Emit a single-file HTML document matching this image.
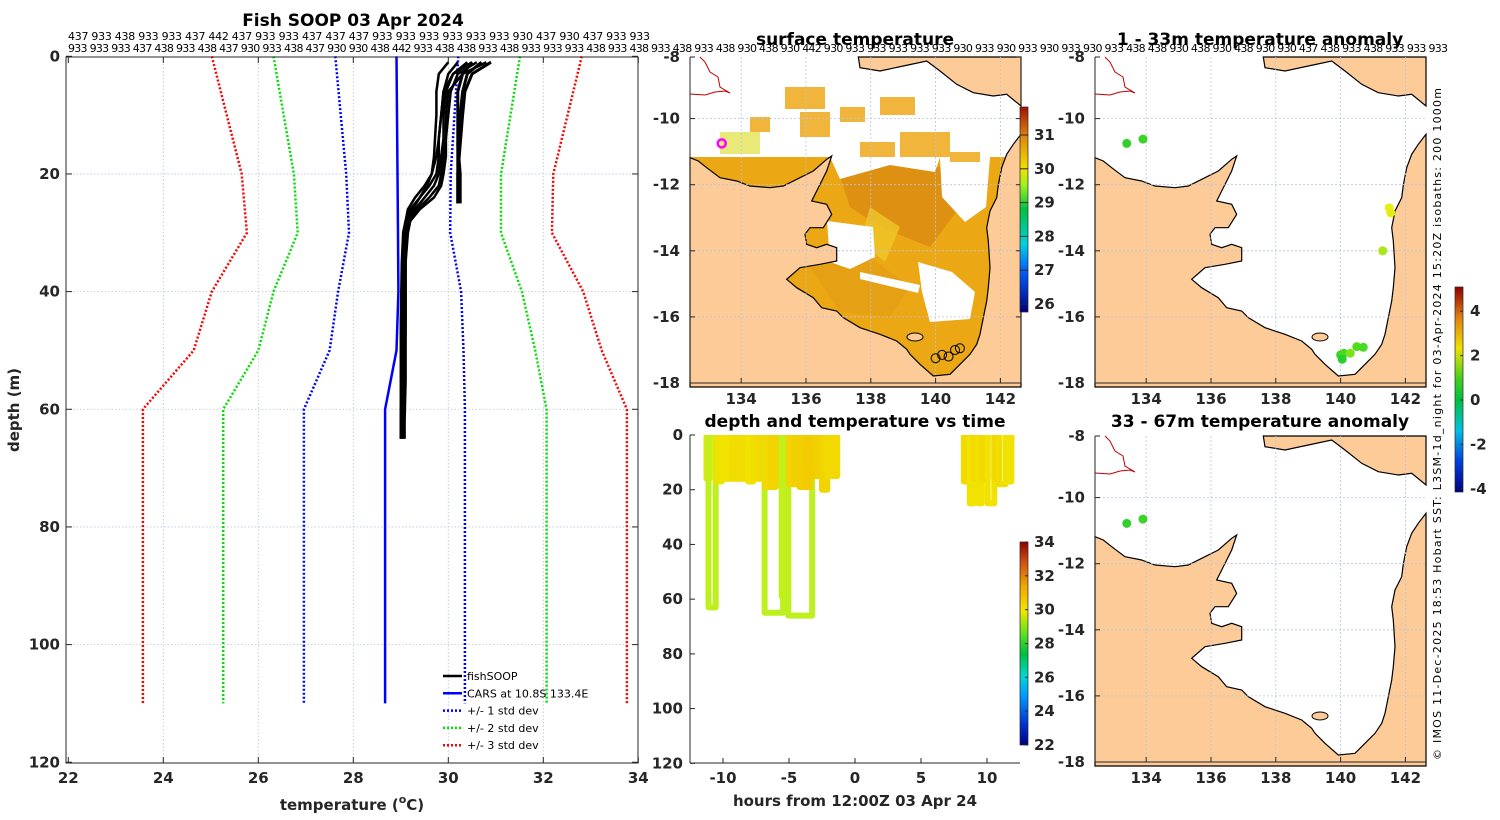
<!DOCTYPE html>
<html><head><meta charset="utf-8"><style>
html,body{margin:0;padding:0;background:#fff;}
svg{display:block;font-family:"DejaVu Sans","Liberation Sans",sans-serif;}
.tk{font-weight:bold;font-size:15px;fill:#262626;}
.ttl{font-weight:bold;font-size:17px;fill:#000;}
.num{font-size:11px;fill:#000;}
</style></head><body>
<svg id="fig" width="1500" height="820" viewBox="0 0 1500 820" xmlns="http://www.w3.org/2000/svg">
<defs>
<linearGradient id="jet" x1="0" y1="1" x2="0" y2="0">
<stop offset="0" stop-color="#000080"/><stop offset="0.1" stop-color="#0030d0"/><stop offset="0.25" stop-color="#00a0ff"/><stop offset="0.34" stop-color="#00d8d0"/><stop offset="0.45" stop-color="#00c040"/><stop offset="0.55" stop-color="#60e020"/><stop offset="0.66" stop-color="#f0e800"/><stop offset="0.78" stop-color="#f0a800"/><stop offset="0.9" stop-color="#d05010"/><stop offset="1" stop-color="#900000"/>
</linearGradient>
<linearGradient id="sstbar" x1="0" y1="1" x2="0" y2="0">
<stop offset="0" stop-color="#000080"/><stop offset="0.2" stop-color="#0060ff"/><stop offset="0.33" stop-color="#00d0e0"/><stop offset="0.5" stop-color="#00c040"/><stop offset="0.62" stop-color="#a0f020"/><stop offset="0.7" stop-color="#f0e000"/><stop offset="0.85" stop-color="#e08a10"/><stop offset="1" stop-color="#a01000"/>
</linearGradient>
<linearGradient id="anombar" x1="0" y1="1" x2="0" y2="0">
<stop offset="0" stop-color="#000080"/><stop offset="0.15" stop-color="#0040e0"/><stop offset="0.3" stop-color="#00c0e0"/><stop offset="0.45" stop-color="#00c040"/><stop offset="0.55" stop-color="#40d020"/><stop offset="0.7" stop-color="#f0e000"/><stop offset="0.85" stop-color="#e08010"/><stop offset="1" stop-color="#900000"/>
</linearGradient>
</defs>
<g id="root"></g>
</svg>
<script>
// ---------- data ----------
const stdDepths = [0,20,30,40,50,60,110];
const carsMean  = [28.91,28.93,28.94,28.95,28.91,28.67,28.67];
const minus1 = [27.62,27.85,27.91,27.68,27.50,26.96,26.96];
const plus1  = [30.21,30.05,30.04,30.27,30.32,30.35,30.35];
const minus2 = [26.32,26.75,26.83,26.32,26.00,25.26,25.26];
const plus2  = [31.51,31.11,31.11,31.55,31.83,32.07,32.07];
const minus3 = [25.02,25.65,25.76,25.02,24.64,23.57,23.57];
const plus3  = [32.81,32.21,32.18,32.84,33.23,33.76,33.76];
const fishDepths = [1,3,6,10,14,17,20,22,24,26,28,30,35,45,55,62,65];
const fish1 = [30.2,30.0,29.9,29.85,29.8,29.8,29.75,29.6,29.4,29.2,29.1,29.05,29.05,29.05,29.02,29.0,29.0];
const fish2 = [30.5,30.1,29.95,29.9,29.9,29.85,29.8,29.7,29.5,29.3,29.15,29.1,29.08,29.07,29.05,29.05,29.05];
const fish3 = [30.8,30.3,30.0,29.95,29.95,29.9,29.85,29.8,29.6,29.35,29.2,29.12,29.1,29.1,29.1,29.08,29.08];
const fish4 = [30.6,30.2,30.05,30.0,29.95,29.95,29.9,29.85,29.7,29.4,29.2,29.15,29.1,29.1,29.08,29.05,29.05];
const fish5 = [30.4,30.1,29.9,29.85,29.8,29.75,29.65,29.5,29.3,29.15,29.1,29.05,29.02,29.0,29.0,29.0,29.0];
const fish6 = [30.0,29.8,29.75,29.75,29.72,29.7,29.65,29.55,29.4,29.25,29.15,29.1,29.05,29.03,29.02,29.0,29.0];
const shortDepths = [1,3,6,10,15,20,25];
const fishShort1 = [30.5,30.3,30.2,30.2,30.2,30.25,30.25];
const fishShort2 = [30.7,30.4,30.3,30.25,30.2,30.2,30.2];
const fishShort3 = [30.9,30.5,30.35,30.3,30.25,30.2,30.2];
const xTicks = [22,24,26,28,30,32,34];
const yTicks = [0,20,40,60,80,100,120];
// time plot casts: start hour, end hour, max depth, temperature
const castStart = [-11.25,-11.1,-10.5,-10.1,-9.7,-9.3,-8.9,-8.5,-8.1,-7.7,-7.3,-6.85,-6.8,-6.4,-6.0,-5.55,-5.05,-5.0,-4.6,-4.2,-3.8,-3.3,-2.9,-2.5,-2.1,-1.7,8.25,8.7,9.0,9.35,9.6,10.05,10.55,10.9,11.4];
const castEnd   = [-11.0,-10.55,-10.1,-9.7,-9.3,-8.9,-8.5,-8.1,-7.7,-7.3,-6.9,-5.45,-6.4,-6.0,-5.6,-5.3,-3.25,-4.6,-4.2,-3.8,-3.4,-2.9,-2.5,-2.1,-1.7,-1.35,8.7,9.0,9.35,9.6,10.05,10.55,10.9,11.4,11.85];
const castDepth = [16,63,17,16,16,16,16,16,17,16,16,65,19,19,18,59,66,18,18,19,19,15,15,20,15,15,17,25,16,25,16,25,16,18,17];
const castTemp  = [29.8,29.0,29.9,30.0,30.0,30.1,30.1,30.1,30.0,30.1,30.2,29.0,30.2,30.3,30.3,29.1,29.0,30.3,30.4,30.4,30.5,30.5,30.4,30.3,30.2,30.2,30.2,30.0,30.2,30.0,30.2,30.0,30.2,30.1,30.0];
const hourTicks = [-10,-5,0,5,10];
const depthTicks = [0,20,40,60,80,100,120];
// maps
const lonTicks = [134,136,138,140,142];
const latTicks = [-8,-10,-12,-14,-16,-18];
const anomLon = [133.4,133.9,141.5,141.55,141.3,140.0,140.1,140.3,140.5,140.7,140.05];
const anomLat = [-10.75,-10.62,-12.7,-12.85,-14.0,-17.15,-17.1,-17.1,-16.9,-16.92,-17.28];
const anomVal = [0.6,0.7,2.0,2.1,1.6,0.7,0.9,1.3,1.0,0.9,0.5];
const anom2Lon = [133.4,133.9];
const anom2Lat = [-10.78,-10.65];
const anom2Val = [0.6,0.7];
const stationLon = [140.0,140.2,140.4,140.6,140.75];
const stationLat = [-17.25,-17.15,-17.2,-17.0,-16.95];
const cbTimeTicks = [22,24,26,28,30,32,34];
const cbSstTicks = [26,27,28,29,30,31];
const cbAnomTicks = [-4,-2,0,2,4];

// ---------- helpers ----------
const NS='http://www.w3.org/2000/svg';
const root=document.getElementById('root');
function mk(tag,attrs,parent){const e=document.createElementNS(NS,tag);for(const k in attrs)e.setAttribute(k,attrs[k]);(parent||root).appendChild(e);return e;}
function txt(x,y,s,cls,anchor,parent){const t=mk('text',{x:x,y:y,'class':cls,'text-anchor':anchor||'middle'},parent);t.textContent=s;return t;}
function tempColor(t){
  const v=[22,24,25,26,27,28,29,30,31,32,33,34];
  const c=[[0,0,128],[0,64,255],[0,176,255],[0,224,224],[0,200,120],[0,204,40],[190,240,30],[242,226,0],[242,180,0],[224,112,0],[192,48,16],[144,0,0]];
  if(t<=v[0])return 'rgb('+c[0]+')';
  for(let i=1;i<v.length;i++){if(t<=v[i]){const f=(t-v[i-1])/(v[i]-v[i-1]);const r=c[i-1].map((a,j)=>Math.round(a+(c[i][j]-a)*f));return 'rgb('+r+')';}}
  return 'rgb('+c[c.length-1]+')';
}
function anomColor(a){
  const v=[-4,-2,0,1,2,3,4];
  const c=[[0,0,128],[0,150,230],[0,192,64],[80,220,30],[230,240,20],[240,170,0],[160,20,0]];
  for(let i=1;i<v.length;i++){if(a<=v[i]){const f=Math.max(0,(a-v[i-1])/(v[i]-v[i-1]));const r=c[i-1].map((x,j)=>Math.round(x+(c[i][j]-x)*f));return 'rgb('+r+')';}}
  return 'rgb('+c[c.length-1]+')';
}

// ---------- top station numbers ----------
const nums1="437 933 438 933 933 437 442 437 933 933 437 437 437 933 933 933 933 933 933 930 437 930 437 933 933";
const nums2="933 933 933 437 438 933 438 437 930 933 438 437 930 930 438 442 933 438 438 933 438 933 933 933 438 933 438 933 438 933 438 930 438 930 442 930 933 933 933 933 933 930 933 930 933 930 933 930 933 438 438 930 438 930 438 930 930 437 438 933 438 933 933 933";
let n1=txt(68,40,nums1,'num','start');


n1.setAttribute('textLength','582');
let n2=txt(68,52,nums2,'num','start');


n2.setAttribute('textLength','1380');

// ---------- profile plot ----------
const P={x0:66,x1:638,y0:57,y1:763};
const tx=T=>68.3+(T-22)*47.5;
const dy=d=>56.3+d*5.883;
const gP=mk('g',{});


mk('rect',{x:P.x0,y:P.y0,width:P.x1-P.x0,height:P.y1-P.y0,fill:'#fff'},gP);
xTicks.forEach(v=>{const x=tx(v);
  if(v>22&&v<34){const l=mk('line',{x1:x,y1:P.y0,x2:x,y2:P.y1,stroke:'#b8c4dc','stroke-width':0.8,'stroke-dasharray':'1.5 2'},gP);}
  mk('line',{x1:x,y1:P.y1,x2:x,y2:P.y1-6,stroke:'#262626'},gP);mk('line',{x1:x,y1:P.y0,x2:x,y2:P.y0+6,stroke:'#262626'},gP);
  const t=txt(x,783,String(v),'tk','middle',gP);});
yTicks.forEach(v=>{const y=dy(v);
  if(v>0&&v<120){const l=mk('line',{x1:P.x0,y1:y,x2:P.x1,y2:y,stroke:'#b8c4dc','stroke-width':0.8,'stroke-dasharray':'1.5 2'},gP);}
  mk('line',{x1:P.x0,y1:y,x2:P.x0+6,y2:y,stroke:'#262626'},gP);mk('line',{x1:P.x1,y1:y,x2:P.x1-6,y2:y,stroke:'#262626'},gP);
  const t=txt(60,y+5,String(v),'tk','end',gP);});
function pline(ds,ts,color,dash,w,name){const pts=ds.map((d,i)=>tx(ts[i]).toFixed(1)+','+dy(d).toFixed(1)).join(' ');
  const l=mk('polyline',{points:pts,fill:'none',stroke:color,'stroke-width':w,'stroke-dasharray':dash||'none','stroke-linejoin':'round'},gP);
  }
pline(stdDepths,minus3,'#ff0000','2 2',2.5,'minus-3-std-line');
pline(stdDepths,plus3,'#ff0000','2 2',2.5,'plus-3-std-line');
pline(stdDepths,minus2,'#00e000','2 2',2.5,'minus-2-std-line');
pline(stdDepths,plus2,'#00e000','2 2',2.5,'plus-2-std-line');
pline(stdDepths,minus1,'#0000ff','2 2',2.5,'minus-1-std-line');
pline(stdDepths,plus1,'#0000ff','2 2',2.5,'plus-1-std-line');
pline(stdDepths,carsMean,'#0000ff','',2.5,'cars-mean-line');
[fish1,fish2,fish3,fish4,fish5,fish6].forEach(f=>pline(fishDepths,f,'#000','',2.5,'fishsoop-profile'));
[fishShort1,fishShort2,fishShort3].forEach(f=>pline(shortDepths,f,'#000','',3,'fishsoop-profile-short'));
mk('rect',{x:P.x0,y:P.y0,width:P.x1-P.x0,height:P.y1-P.y0,fill:'none',stroke:'#262626','stroke-width':1},gP);
let tt=txt(353,26,'Fish SOOP 03 Apr 2024','ttl','middle',gP);
let xl=mk('text',{x:352,y:810,'class':'tk','text-anchor':'middle','font-size':'16'},gP);
xl.innerHTML='temperature (<tspan font-size="11" dy="-7">o</tspan><tspan dy="7">C)</tspan>';

let yl=txt(0,0,'depth (m)','tk','middle',gP);yl.setAttribute('transform','translate(19,410) rotate(-90)');

// legend
const legItems=[['fishSOOP','#000',''],['CARS at 10.8S 133.4E','#0000ff',''],['+/- 1 std dev','#0000ff','2 2'],['+/- 2 std dev','#00e000','2 2'],['+/- 3 std dev','#ff0000','2 2']];
const gL=mk('g',{},gP);
legItems.forEach((it,i)=>{const y=676+i*17.3;
  mk('line',{x1:443,y1:y,x2:462,y2:y,stroke:it[1],'stroke-width':2.5,'stroke-dasharray':it[2]||'none'},gL);
  const t=txt(467,y+4,it[0],'num','start',gL);t.setAttribute('font-size','12');
  });

// ---------- time plot ----------
const hx=h=>855+h*13.2;
const hy=d=>435+d*2.736;
const gT=mk('g',{});
castStart.forEach((s,i)=>{const e=castEnd[i],d=castDepth[i];
  const pts=[[s,0],[s,d],[e,d],[e,0]].map(p=>hx(p[0]).toFixed(1)+','+hy(p[1]).toFixed(1)).join(' ');
  const l=mk('polyline',{points:pts,fill:'none',stroke:tempColor(castTemp[i]),'stroke-width':6,'stroke-linejoin':'round'},gT);
  });
mk('line',{x1:690,y1:435,x2:690,y2:763,stroke:'#262626'},gT);
mk('line',{x1:690,y1:763,x2:1020,y2:763,stroke:'#262626'},gT);
depthTicks.forEach(v=>{const y=hy(v);mk('line',{x1:690,y1:y,x2:695,y2:y,stroke:'#262626'},gT);
  const t=txt(683,y+5,String(v),'tk','end',gT);});
hourTicks.forEach(v=>{const x=hx(v);mk('line',{x1:x,y1:763,x2:x,y2:758,stroke:'#262626'},gT);
  const t=txt(x,783,String(v),'tk','middle',gT);});
let t2=txt(855,427,'depth and temperature vs time','ttl','middle',gT);
let t3=txt(855,806,'hours from 12:00Z 03 Apr 24','tk','middle',gT);t3.setAttribute('font-size','16');
let cb=mk('rect',{x:1020,y:542,width:8,height:203,fill:'url(#jet)',stroke:'#262626','stroke-width':0.7},gT);

cbTimeTicks.forEach(v=>{const y=745-(v-22)/12*203;mk('line',{x1:1025,y1:y,x2:1028,y2:y,stroke:'#262626'},gT);
  const t=txt(1034,y+5,String(v),'tk','start',gT);t.setAttribute('font-size','14');});

// ---------- maps ----------
const landMain="0,100.7 8.3,104 16.7,110.7 30,120.7 46.7,124 60,129 80,130.7 93.3,129 110,120.7 123.3,114 136.7,102.3 141.7,99 136.7,114 126.7,134 121.7,144 136.7,147.3 141.7,157.3 133.3,170.7 120,170.7 115,177.3 116.7,187.3 126.7,190.7 136.7,187.3 146.7,190.7 146.7,204 130,207.3 110,210.7 96.7,222.3 106.7,230.7 123.3,240.7 131.7,250.7 146.7,254 153.3,260.7 170,270.7 190,277.3 206.7,284 216.7,292.3 220,297.3 230,307.3 243.3,319 260,317.3 270,307.3 280,297.3 286.7,287.3 290,277.3 293.3,260.7 296.7,244 298.3,230.7 300,210.7 298.3,184 296.7,170.7 300,154 306.7,140.7 308.3,128 311.7,110.7 316.7,97.3 323.3,87.3 331,77.3 331,330 0,330";
const landTop="168.3,0 170,10.7 190,14 213.3,9 236.7,4 250,14 266.7,27.3 283.3,35.7 303.3,39 316.7,37.3 331,49 331,0";
function drawMap(x0,y0,name,withSst,rightAxis){
  const g=mk('g',{transform:'translate('+x0+','+y0+')'});
  
  const lonX=lon=>(lon-132.42)*32.4;
  const latY=lat=>326-(lat+18)*33.05;
  mk('rect',{x:0,y:0,width:331,height:326,fill:'#fff'},g);
  if(withSst){
    const s=mk('g',{},g);
    mk('rect',{x:0,y:100,width:331,height:226,fill:'#eba814'},s);
    mk('polygon',{points:'150,120 200,105 250,110 270,150 240,190 190,170 160,150',fill:'#de9012'},s);
    mk('polygon',{points:'120,210 180,200 220,230 200,260 150,255',fill:'#e6a014'},s);
    mk('polygon',{points:'180,150 210,170 195,205 170,185',fill:'#f0c628',opacity:0.8},s);
    // clouds / gaps
    mk('polygon',{points:'137,164 183,170 185,200 160,212 140,205',fill:'#fff'},s);
    mk('polygon',{points:'228,205 262,215 285,235 280,262 240,265 232,235',fill:'#fff'},s);
    mk('polygon',{points:'170,215 230,228 228,236 170,222',fill:'#fff'},s);
    mk('polygon',{points:'250,100 300,100 296,150 275,165 252,140',fill:'#fff'},s);
    mk('polygon',{points:'140,100 250,100 245,115 200,108 150,122',fill:'#fff'},s);
    // northern scattered patches
    [[95,30,40,22],[110,55,30,25],[150,50,25,15],[190,40,35,18],[210,75,50,25],[170,85,35,15],[60,60,20,15],[260,95,30,10]].forEach(r=>mk('rect',{x:r[0],y:r[1],width:r[2],height:r[3],fill:'#eda818',opacity:0.85},s));
    mk('rect',{x:30,y:75,width:40,height:22,fill:'#e0e040',opacity:0.7},s);
  }
  mk('polygon',{points:landMain,fill:'#fccb98',stroke:'#000','stroke-width':1.2},g);
  mk('polygon',{points:landTop,fill:'#fccb98',stroke:'#000','stroke-width':1.2},g);
  mk('ellipse',{cx:225,cy:280,rx:8,ry:4,fill:'#fccb98',stroke:'#000','stroke-width':1},g);
  mk('polyline',{points:'0,37 15,38 25,35 35,34 40,36 30,30 28,20 20,15 15,5 10,0',fill:'none',stroke:'#c00000','stroke-width':1},g);
  lonTicks.forEach(v=>{const x=lonX(v);mk('line',{x1:x,y1:0,x2:x,y2:326,stroke:'#b8c4dc','stroke-width':0.8,'stroke-dasharray':'2 2'},g);
    mk('line',{x1:x,y1:326,x2:x,y2:321,stroke:'#262626'},g);
    const t=txt(x,347,String(v),'tk','middle',g);});
  latTicks.forEach(v=>{const y=Math.max(0,latY(v));if(v>-18&&v<-8)mk('line',{x1:0,y1:y,x2:331,y2:y,stroke:'#b8c4dc','stroke-width':0.8,'stroke-dasharray':'2 2'},g);
    mk('line',{x1:0,y1:y,x2:5,y2:y,stroke:'#262626'},g);
    if(rightAxis)mk('line',{x1:331,y1:y,x2:326,y2:y,stroke:'#262626'},g);
    const t=txt(-10,y+5,String(v),'tk','end',g);});
  mk('line',{x1:0,y1:0,x2:0,y2:326,stroke:'#262626'},g);
  mk('line',{x1:0,y1:326,x2:331,y2:326,stroke:'#262626'},g);
  if(rightAxis)mk('line',{x1:331,y1:0,x2:331,y2:326,stroke:'#262626'},g);
  return {g,lonX,latY};
}
const m1=drawMap(690,57,'surface-temperature-map',true,true);
stationLon.forEach((lon,i)=>{const c=mk('circle',{cx:m1.lonX(lon),cy:m1.latY(stationLat[i]),r:4.5,fill:'none',stroke:'#000','stroke-width':1},m1.g);
  });
let mg=mk('circle',{cx:m1.lonX(133.4),cy:m1.latY(-10.75),r:4,fill:'none',stroke:'#ff00ff','stroke-width':2.5},m1.g);

let st1=txt(855,45,'surface temperature','ttl','middle');
let cb2=mk('rect',{x:1020,y:107,width:8,height:205,fill:'url(#sstbar)',stroke:'#262626','stroke-width':0.7});

cbSstTicks.forEach(v=>{const y=304-(v-26)*33.8;mk('line',{x1:1020,y1:y,x2:1028,y2:y,stroke:'#262626'});
  const t=txt(1034,y+5,String(v),'tk','start');t.setAttribute('font-size','14');});

const m2=drawMap(1095,57,'anomaly-map-1-33m',false,false);
anomLon.forEach((lon,i)=>{const c=mk('circle',{cx:m2.lonX(lon),cy:m2.latY(anomLat[i]),r:4.5,fill:anomColor(anomVal[i])},m2.g);
  });
let st2=txt(1260,45,'1 - 33m temperature anomaly','ttl','middle');

const m3=drawMap(1095,436,'anomaly-map-33-67m',false,false);
anom2Lon.forEach((lon,i)=>{const c=mk('circle',{cx:m3.lonX(lon),cy:m3.latY(anom2Lat[i]),r:4.5,fill:anomColor(anom2Val[i])},m3.g);
  });
let st3=txt(1260,427,'33 - 67m temperature anomaly','ttl','middle');

let cb3=mk('rect',{x:1455,y:287,width:8,height:205,fill:'url(#anombar)',stroke:'#262626','stroke-width':0.7});

cbAnomTicks.forEach(v=>{const y=400-v*22.2;mk('line',{x1:1460,y1:y,x2:1463,y2:y,stroke:'#262626'});
  const t=txt(1470,y+5,String(v),'tk','start');t.setAttribute('font-size','13');});

let cr=txt(0,0,'© IMOS 11-Dec-2025 18:53 Hobart SST: L3SM-1d_night for 03-Apr-2024 15:20Z isobaths: 200  1000m','num','middle');
cr.setAttribute('font-size','13');cr.setAttribute('textLength','672');cr.setAttribute('transform','translate(1441,424) rotate(-90)');

</script>
</body></html>
